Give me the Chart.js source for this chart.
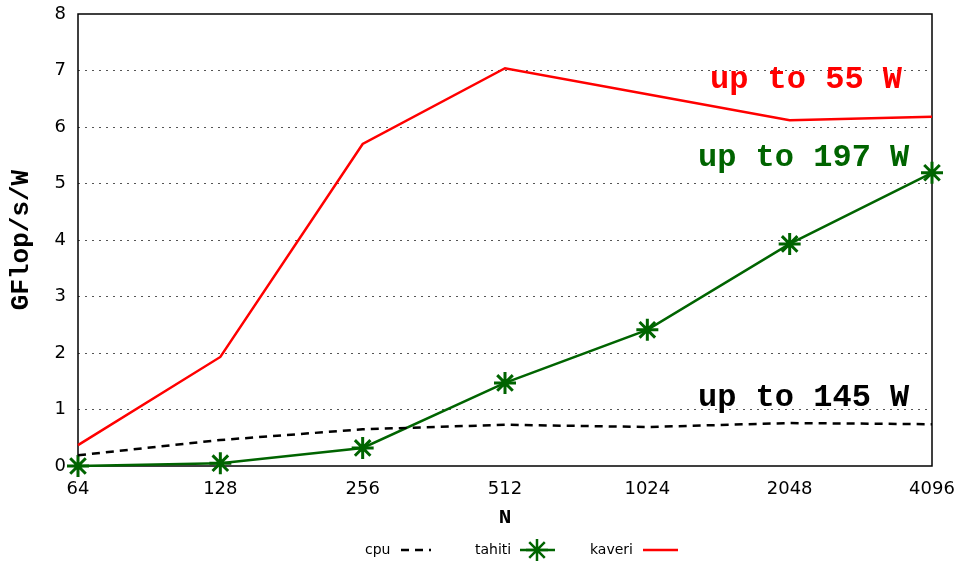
<!DOCTYPE html>
<html>
<head>
<meta charset="utf-8">
<script src="https://cdn.jsdelivr.net/npm/chart.js@4/dist/chart.umd.min.js"></script>
<style>
  html, body { margin: 0; padding: 0; background: #fff; }
  #wrap { width: 961px; height: 565px; }
</style>
</head>
<body>
<div id="wrap"><canvas id="chart1" width="961" height="565"></canvas></div>
<script>
  const labelsN = ['64', '128', '256', '512', '1024', '2048', '4096'];
  const cpu = [0.19, 0.46, 0.65, 0.73, 0.69, 0.76, 0.74];
  const tahiti = [0.0, 0.05, 0.32, 1.47, 2.41, 3.93, 5.19];
  const kaveri = [0.37, 1.93, 5.70, 7.04, 6.58, 6.12, 6.18];

  const notes = [
    { text: 'up to 55 W', color: '#ff0000', y: 6.83, dx: 222 },
    { text: 'up to 197 W', color: '#006400', y: 5.45, dx: 234 },
    { text: 'up to 145 W', color: '#000000', y: 1.2, dx: 234 }
  ];

  const mono = '"Liberation Mono", "Courier New", monospace';
  const sans = '"DejaVu Sans", sans-serif';
  const clear = 'rgba(0,0,0,0)';

  // box round the plot, the power notes and a gnuplot style legend
  const extras = {
    id: 'extras',
    beforeDatasetsDraw(chart) {
      const c = chart.ctx;
      const a = chart.chartArea;
      c.save();
      c.strokeStyle = '#000';
      c.lineWidth = 1.5;
      c.strokeRect(a.left, a.top, a.right - a.left, a.bottom - a.top);
      c.restore();
    },
    afterDatasetsDraw(chart) {
      const c = chart.ctx;
      const a = chart.chartArea;
      const ys = chart.scales.y;
      c.save();
      c.font = 'bold 32px ' + mono;
      c.textAlign = 'left';
      c.textBaseline = 'middle';
      for (const n of notes) {
        c.fillStyle = n.color;
        c.fillText(n.text, a.right - n.dx, ys.getPixelForValue(n.y));
      }

      const ly = 550;
      c.font = '14px ' + sans;
      c.fillStyle = '#000';
      c.fillText('cpu', 365, ly);
      c.fillText('tahiti', 475, ly);
      c.fillText('kaveri', 590, ly);

      c.lineWidth = 2.5;
      c.strokeStyle = '#000';
      c.setLineDash([8, 6]);
      c.beginPath(); c.moveTo(401, ly); c.lineTo(431, ly); c.stroke();
      c.setLineDash([]);

      c.strokeStyle = '#006400';
      c.beginPath(); c.moveTo(520, ly); c.lineTo(555, ly); c.stroke();
      Chart.helpers.drawPoint(c, { pointStyle: 'star', radius: 11, rotation: 0, borderWidth: 3 }, 537, ly);

      c.strokeStyle = '#ff0000';
      c.beginPath(); c.moveTo(643, ly); c.lineTo(678, ly); c.stroke();
      c.restore();
    }
  };

  const ctx = document.getElementById('chart1').getContext('2d');

  new Chart(ctx, {
    type: 'line',
    data: {
      labels: labelsN,
      datasets: [{
        label: 'cpu',
        data: cpu,
        borderColor: '#000',
        borderWidth: 2.5,
        borderDash: [8, 6],
        pointRadius: 0,
        tension: 0
      }, {
        label: 'tahiti',
        data: tahiti,
        borderColor: '#006400',
        backgroundColor: '#006400',
        borderWidth: 2.5,
        pointStyle: 'star',
        pointRadius: 11,
        pointBorderWidth: 3,
        pointBorderColor: '#006400',
        tension: 0,
        clip: false
      }, {
        label: 'kaveri',
        data: kaveri,
        borderColor: '#ff0000',
        borderWidth: 2.5,
        pointRadius: 0,
        tension: 0
      }]
    },
    options: {
      responsive: false,
      animation: false,
      layout: { padding: { left: 0, right: 29, top: 14, bottom: 35 } },
      plugins: {
        legend: { display: false },
        tooltip: { enabled: false }
      },
      scales: {
        x: {
          offset: false,
          grid: { display: true, color: clear, tickColor: clear, drawTicks: true, tickLength: 13 },
          border: { display: false },
          ticks: { color: '#000', font: { family: sans, size: 18 }, padding: 0, maxRotation: 0, autoSkip: false },
          title: { display: true, text: 'N', color: '#000', font: { family: mono, size: 21, weight: 'bold' }, padding: { top: 0, bottom: 0 } },
          afterFit(scale) { scale.height = 64; }
        },
        y: {
          min: 0,
          max: 8,
          grid: {
            drawTicks: true,
            tickLength: 12,
            tickColor: clear,
            color: (c) => (c.tick.value > 0 && c.tick.value < 8) ? '#555' : clear,
            lineWidth: 1
          },
          border: { display: false, dash: [2, 5] },
          ticks: { stepSize: 1, color: '#000', font: { family: sans, size: 18 }, padding: 0 },
          title: { display: true, text: 'GFlop/s/W', color: '#000', font: { family: mono, size: 26, weight: 'bold' }, padding: { top: 6, bottom: 0 } },
          afterFit(scale) { scale.width = 78; }
        }
      }
    },
    plugins: [extras]
  });
</script>
</body>
</html>
